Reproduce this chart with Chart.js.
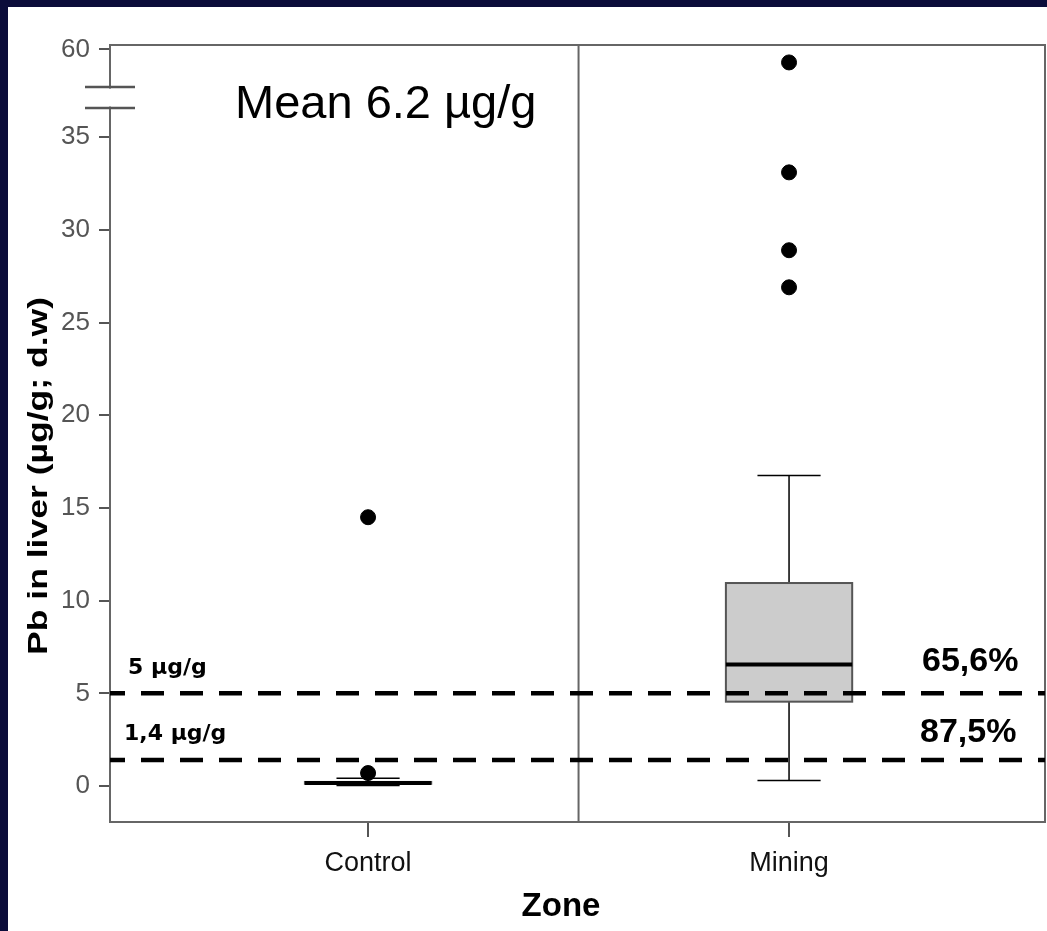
<!DOCTYPE html>
<html>
<head>
<meta charset="utf-8">
<script src="https://cdn.jsdelivr.net/npm/chart.js@4"></script>
<style>
  body { margin: 0; background: #0b0c3a; overflow: hidden; }
  #panel { position: absolute; left: 8px; top: 7px; width: 1039px; height: 924px; background: #fff; }
</style>
</head>
<body>
<div id="panel"><canvas id="chart" width="1039" height="924"></canvas></div>
<script>
// values above the axis break are pulled down by this much
const breakShift = 20.27;
const breakLow = 36.57, breakHigh = 37.7;

const zones = ["Control", "Mining"];
const boxMin = [0.03, 0.3];
const boxQ1 = [0.12, 4.55];
const boxMedian = [0.17, 6.55];
const boxQ3 = [0.22, 10.95];
const boxMax = [0.42, 16.75];

const outlierZone = [0, 0, 1, 1, 1, 1];
const outlierValue = [14.5, 0.7, 59.3, 33.1, 28.9, 26.9];

const limits = [5, 1.4];
const limitLabels = ["5 µg/g", "1,4 µg/g"];
const limitShares = ["65,6%", "87,5%"];
const yTicks = [0, 5, 10, 15, 20, 25, 30, 35, 60];
const meanLabel = "Mean 6.2 µg/g";

const xMin = -0.613, xMax = 1.608;

function toAxis(v) {
    return v > breakHigh + breakShift ? v - breakShift : v;
}

const outliers = outlierValue.map((v, i) => ({ x: outlierZone[i], y: toAxis(v) }));

const limitSets = limits.map(v => ({
    type: "scatter",
    showLine: true,
    data: [{ x: xMin, y: v }, { x: xMax, y: v }],
    borderColor: "#000",
    borderWidth: 4.5,
    borderDash: [23, 16],
    borderDashOffset: 8,
    pointRadius: 0
}));

const boxPlot = {
    id: "boxPlot",
    beforeDatasetsDraw(chart) {
        const ctx = chart.ctx;
        const xs = chart.scales.x, ys = chart.scales.y;
        const area = chart.chartArea;

        ctx.save();
        // frame and the panel divider
        ctx.strokeStyle = "#666";
        ctx.lineWidth = 2;
        ctx.strokeRect(area.left, area.top, area.right - area.left, area.bottom - area.top);
        const mid = xs.getPixelForValue(0.5);
        ctx.beginPath();
        ctx.moveTo(mid, area.top);
        ctx.lineTo(mid, area.bottom);
        ctx.stroke();

        zones.forEach((z, i) => {
            const cx = xs.getPixelForValue(i);
            const half = xs.getPixelForValue(i + 0.15) - cx;
            const cap = xs.getPixelForValue(i + 0.075) - cx;
            const yMin = ys.getPixelForValue(boxMin[i]);
            const yQ1 = ys.getPixelForValue(boxQ1[i]);
            const yMed = ys.getPixelForValue(boxMedian[i]);
            const yQ3 = ys.getPixelForValue(boxQ3[i]);
            const yMax = ys.getPixelForValue(boxMax[i]);

            ctx.strokeStyle = "#000";
            ctx.lineWidth = 1.5;
            ctx.beginPath();
            ctx.moveTo(cx, yQ3); ctx.lineTo(cx, yMax);
            ctx.moveTo(cx - cap, yMax); ctx.lineTo(cx + cap, yMax);
            ctx.moveTo(cx, yQ1); ctx.lineTo(cx, yMin);
            ctx.moveTo(cx - cap, yMin); ctx.lineTo(cx + cap, yMin);
            ctx.stroke();

            ctx.fillStyle = "#cccccc";
            ctx.fillRect(cx - half, yQ3, half * 2, yQ1 - yQ3);
            ctx.strokeStyle = "#555";
            ctx.lineWidth = 2;
            ctx.strokeRect(cx - half, yQ3, half * 2, yQ1 - yQ3);

            ctx.strokeStyle = "#000";
            ctx.lineWidth = 4;
            ctx.beginPath();
            ctx.moveTo(cx - half, yMed);
            ctx.lineTo(cx + half, yMed);
            ctx.stroke();
        });
        ctx.restore();
    },
    afterDraw(chart) {
        const ctx = chart.ctx;
        const ys = chart.scales.y;
        const area = chart.chartArea;

        ctx.save();
        // axis break
        const bLo = ys.getPixelForValue(breakLow);
        const bHi = ys.getPixelForValue(breakHigh);
        ctx.fillStyle = "#fff";
        ctx.fillRect(area.left - 3, bHi + 1.5, 6, bLo - bHi - 3);
        ctx.strokeStyle = "#555";
        ctx.lineWidth = 2.5;
        ctx.beginPath();
        ctx.moveTo(area.left - 25, bHi); ctx.lineTo(area.left + 25, bHi);
        ctx.moveTo(area.left - 25, bLo); ctx.lineTo(area.left + 25, bLo);
        ctx.stroke();

        ctx.fillStyle = "#000";
        ctx.textBaseline = "alphabetic";
        ctx.textAlign = "left";
        ctx.font = "47px 'Liberation Sans', Arial, sans-serif";
        ctx.fillText(meanLabel, 227, 111);

        const labelOffsets = [19, 20];
        const shareOffsets = [22, 18];
        const labelX = [120, 116];
        const shareX = [914, 912];
        limits.forEach((v, i) => {
            const y = ys.getPixelForValue(v);
            ctx.font = "bold 22px 'DejaVu Sans', sans-serif";
            ctx.fillText(limitLabels[i], labelX[i], y - labelOffsets[i]);
            ctx.font = "bold 34px 'Liberation Sans', Arial, sans-serif";
            ctx.fillText(limitShares[i], shareX[i], y - shareOffsets[i]);
        });

        ctx.textAlign = "center";
        ctx.font = "bold 33px 'Liberation Sans', Arial, sans-serif";
        ctx.fillText("Zone", 553, 909);

        // y title, stretched along its length
        const title = "Pb in liver (µg/g; d.w)";
        ctx.font = "bold 28px 'Liberation Sans', Arial, sans-serif";
        const w = ctx.measureText(title).width;
        ctx.translate(39, 469);
        ctx.rotate(-Math.PI / 2);
        ctx.scale(358 / w, 1);
        ctx.fillText(title, 0, 0);
        ctx.restore();
    }
};

new Chart("chart", {
    type: "scatter",
    data: {
        datasets: [
            {
                data: outliers,
                backgroundColor: "#000",
                borderColor: "#000",
                pointRadius: 7.5,
                pointHoverRadius: 7.5
            },
            ...limitSets
        ]
    },
    options: {
        responsive: false,
        animation: false,
        devicePixelRatio: 1,
        layout: { autoPadding: false, padding: { top: 38, right: 2, left: 0, bottom: 0 } },
        plugins: { legend: { display: false }, tooltip: { enabled: false } },
        scales: {
            x: {
                type: "linear",
                min: xMin,
                max: xMax,
                afterBuildTicks: s => { s.ticks = zones.map((z, i) => ({ value: i })); },
                afterFit: s => { s.height = 109; s.paddingLeft = 0; s.paddingRight = 0; },
                ticks: {
                    autoSkip: false,
                    maxRotation: 0,
                    padding: 10,
                    color: "#111",
                    font: { family: "'Liberation Sans', Arial, sans-serif", size: 27 },
                    callback: v => zones[v]
                },
                grid: { drawOnChartArea: false, tickLength: 15, color: "#555", lineWidth: 2 },
                border: { color: "#555", width: 2 }
            },
            y: {
                type: "linear",
                min: -1.94,
                max: 39.97,
                afterBuildTicks: s => { s.ticks = yTicks.map(v => ({ value: toAxis(v) })); },
                afterFit: s => { s.width = 102; s.paddingTop = 0; s.paddingBottom = 0; },
                ticks: {
                    padding: 9,
                    color: "#555",
                    font: { family: "'Liberation Sans', Arial, sans-serif", size: 26 },
                    callback: v => v > breakHigh ? String(Math.round(v + breakShift)) : String(v)
                },
                grid: { drawOnChartArea: false, tickLength: 11, color: "#555", lineWidth: 2 },
                border: { color: "#555", width: 2 }
            }
        }
    },
    plugins: [boxPlot]
});
</script>
</body>
</html>
